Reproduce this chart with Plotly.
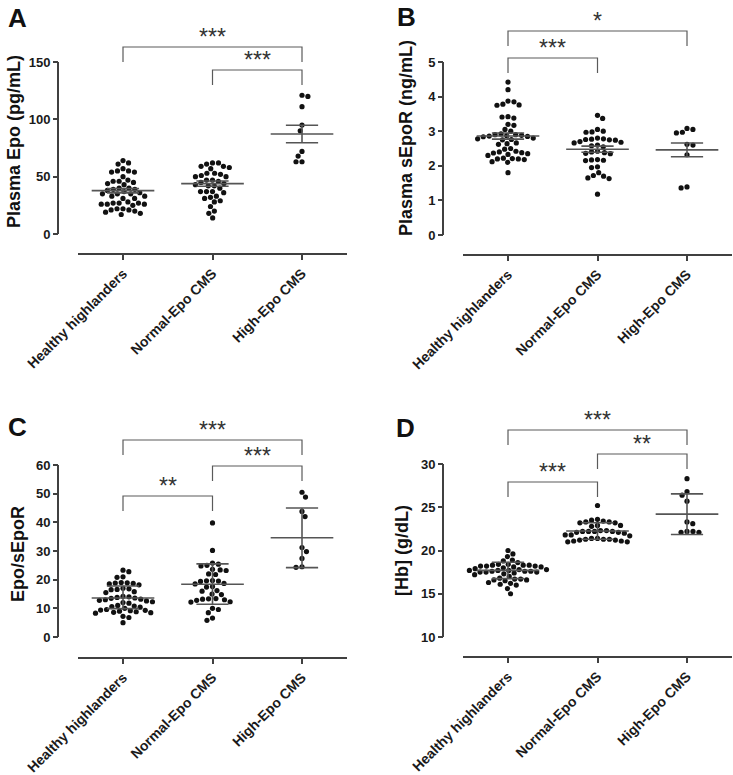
import math
import plotly.graph_objects as go

W, H = 733, 775

categories = ["Healthy highlanders", "Normal-Epo CMS", "High-Epo CMS"]

# ---- Panel A: Plasma Epo (pg/mL)
epo_healthy = [64, 62, 61, 57, 55, 54, 54, 55, 50, 47, 46, 46, 45, 44, 43, 40, 40, 39, 39, 38, 37, 36, 35, 35, 35,
               33, 33, 31, 31, 28, 27, 27, 27, 26, 26, 26, 25, 22, 22, 21, 21, 20, 19, 18, 17]
epo_normal = [62, 62, 61, 59, 59, 58, 57, 53, 53, 52, 51, 50, 50, 47, 47, 46, 45, 44, 43, 42, 42, 40, 37, 37, 37,
              36, 33, 32, 31, 29, 28, 24, 20, 18, 14]
epo_high = [121, 120, 111, 95, 90, 72, 68, 63, 63]
epo_center = [37.8, 43.9, 87.2]
epo_low = [35.9, 41.6, 79.6]
epo_high_err = [39.7, 46.2, 94.8]
epo_ticks = [0, 50, 100, 150]

# ---- Panel B: Plasma sEpoR (ng/mL)
sepor_healthy = [4.42, 4.2, 3.87, 3.85, 3.78, 3.76, 3.75, 3.42, 3.41, 3.38, 3.2, 3.17, 3.05, 3.0, 2.92, 2.9, 2.9,
                 2.88, 2.87, 2.86, 2.85, 2.84, 2.8, 2.78, 2.76, 2.75, 2.66, 2.64, 2.62, 2.5, 2.48, 2.42, 2.4, 2.38,
                 2.37, 2.35, 2.33, 2.3, 2.22, 2.21, 2.2, 2.2, 2.18, 2.12, 2.1, 1.8]
sepor_normal = [3.46, 3.37, 3.05, 3.0, 2.98, 2.97, 2.8, 2.78, 2.77, 2.76, 2.75, 2.74, 2.7, 2.68, 2.66, 2.6, 2.58,
                2.55, 2.42, 2.4, 2.38, 2.36, 2.35, 2.18, 2.17, 2.16, 2.15, 1.97, 1.95, 1.8, 1.72, 1.7, 1.65, 1.63, 1.18]
sepor_high = [3.08, 3.05, 2.97, 2.95, 2.62, 2.6, 2.32, 1.39, 1.36]
sepor_center = [2.86, 2.48, 2.46]
sepor_low = [2.77, 2.39, 2.26]
sepor_high_err = [2.95, 2.57, 2.66]
sepor_ticks = [0, 1, 2, 3, 4, 5]

# ---- Panel C: Epo/sEpoR
ratio_healthy = [23.3, 22.8, 21.0, 20.8, 19.0, 18.9, 18.8, 18.7, 18.5, 18.2, 17.0, 16.8, 16.6, 16.5, 15.8, 15.5,
                 14.2, 14.0, 13.8, 13.6, 13.5, 13.2, 13.0, 12.8, 12.6, 12.3, 12.0, 11.8, 11.0, 10.8, 10.6, 10.4,
                 10.0, 9.6, 9.4, 9.3, 9.2, 9.0, 8.8, 8.6, 8.5, 8.3, 7.2, 6.8, 5.0]
ratio_normal = [39.8, 30.2, 25.8, 25.4, 25.0, 24.8, 23.6, 23.4, 23.2, 22.0, 21.8, 19.7, 19.6, 19.5, 19.4, 18.7,
                18.5, 17.6, 17.4, 16.2, 16.0, 15.0, 14.8, 13.4, 13.3, 13.2, 13.0, 12.8, 12.3, 12.2, 10.0, 9.6, 8.5,
                6.6, 5.8]
ratio_high = [50.5, 48.8, 43.8, 42.0, 31.2, 29.8, 27.4, 24.5, 24.3]
ratio_center = [13.6, 18.4, 34.6]
ratio_low = [9.9, 11.4, 24.2]
ratio_high_err = [17.8, 25.5, 45.0]
ratio_ticks = [0, 10, 20, 30, 40, 50, 60]

# ---- Panel D: [Hb] (g/dL)
hb_healthy = [20.0, 19.6, 19.3, 18.9, 18.8, 18.6, 18.4, 18.4, 18.3, 18.3, 18.3, 18.2, 18.2, 18.2, 18.1, 18.1, 18.0,
              17.9, 17.8, 17.8, 17.7, 17.7, 17.7, 17.6, 17.6, 17.6, 17.5, 17.5, 17.5, 17.4, 17.3, 17.2, 17.0, 16.8,
              16.7, 16.7, 16.6, 16.6, 16.5, 16.3, 16.2, 16.1, 16.0, 15.6, 15.0]
hb_normal = [25.2, 23.6, 23.5, 23.4, 23.3, 23.3, 23.2, 23.2, 22.9, 22.9, 22.8, 22.3, 22.3, 22.2, 22.2, 22.2, 22.2,
             22.1, 22.1, 22.0, 21.8, 21.8, 21.7, 21.4, 21.4, 21.3, 21.3, 21.3, 21.2, 21.2, 21.1, 21.1, 21.0, 21.0]
hb_high = [28.3, 26.8, 26.4, 25.7, 23.3, 23.1, 22.2, 22.1, 22.1, 22.2]
hb_center = [17.7, 22.25, 24.2]
hb_low = [16.75, 21.3, 21.85]
hb_high_err = [18.65, 23.2, 26.55]
hb_ticks = [10, 15, 20, 25, 30]

# significance brackets: (group i, group j, label)
epo_sig = [(0, 2, "***"), (1, 2, "***")]
sepor_sig = [(0, 2, "*"), (0, 1, "***")]
ratio_sig = [(0, 2, "***"), (1, 2, "***"), (0, 1, "**")]
hb_sig = [(0, 2, "***"), (1, 2, "**"), (0, 1, "***")]

AXIS = "#404040"
ERR = "#555555"
BRK = "#5a5a5a"
TXT = "#1a1a1a"
FONT = "Liberation Sans, Arial, sans-serif"

panels = [
    dict(letter="A", title="Plasma Epo (pg/mL)", groups=[epo_healthy, epo_normal, epo_high],
         center=epo_center, low=epo_low, high=epo_high_err, ticks=epo_ticks, sig=epo_sig,
         yax_px=58, cat0=123, xline=253, tick_lo_px=234, tick_hi_px=62, top=15,
         brk_px=[47, 70], letter_xy=(17, 18), title_xy=(14, 142)),
    dict(letter="B", title="Plasma sEpoR (ng/mL)", groups=[sepor_healthy, sepor_normal, sepor_high],
         center=sepor_center, low=sepor_low, high=sepor_high_err, ticks=sepor_ticks, sig=sepor_sig,
         yax_px=443, cat0=508, xline=254, tick_lo_px=235, tick_hi_px=62, top=10,
         brk_px=[31, 58], letter_xy=(406, 17), title_xy=(406, 138)),
    dict(letter="C", title="Epo/sEpoR", groups=[ratio_healthy, ratio_normal, ratio_high],
         center=ratio_center, low=ratio_low, high=ratio_high_err, ticks=ratio_ticks, sig=ratio_sig,
         yax_px=58, cat0=123, xline=657, tick_lo_px=637, tick_hi_px=465, top=415,
         brk_px=[440, 466, 496], letter_xy=(17, 427), title_xy=(18, 554)),
    dict(letter="D", title="[Hb] (g/dL)", groups=[hb_healthy, hb_normal, hb_high],
         center=hb_center, low=hb_low, high=hb_high_err, ticks=hb_ticks, sig=hb_sig,
         yax_px=443, cat0=508, xline=656, tick_lo_px=637, tick_hi_px=464, top=415,
         brk_px=[430, 454, 482], letter_xy=(405, 428), title_xy=(402, 551)),
]

SP = 89.5        # px between categories
DOT = 5.2        # marker diameter px
GAP = 6.0        # min centre distance px
LEG = 15         # bracket leg length px


def beeswarm(vals, k):
    """x offsets (px) so that dots do not overlap; y scale k px/unit."""
    order = sorted(range(len(vals)), key=lambda i: -vals[i])
    placed = []
    offs = [0.0] * len(vals)
    for i in order:
        y = vals[i] * k
        intervals = []
        for (xo, yo) in placed:
            dy = abs(y - yo)
            if dy < GAP:
                hw = math.sqrt(GAP * GAP - dy * dy)
                intervals.append((xo - hw, xo + hw))
        cands = [0.0] + [a for a, b in intervals] + [b for a, b in intervals]
        ok = [c for c in cands if all(not (a + 1e-6 < c < b - 1e-6) for a, b in intervals)]
        ok.sort(key=lambda c: (round(abs(c), 4), -c if len(placed) % 2 else c))
        x = ok[0]
        offs[i] = x
        placed.append((x, y))
    return offs


fig = go.Figure()
layout = dict(width=W, height=H, margin=dict(l=0, r=0, t=0, b=0, autoexpand=False), showlegend=False,
              template="none", paper_bgcolor="white", plot_bgcolor="white", shapes=[], annotations=[],
              font=dict(family=FONT, color=TXT))

for n, p in enumerate(panels):
    sfx = "" if n == 0 else str(n + 1)
    xa, ya = "x" + sfx, "y" + sfx
    ticks = p["ticks"]
    k = (p["tick_lo_px"] - p["tick_hi_px"]) / (ticks[-1] - ticks[0])   # px per unit

    def v_of(py, p=p, k=k, ticks=ticks):
        return ticks[0] + (p["tick_lo_px"] - py) / k

    yr = [v_of(p["xline"]), v_of(p["top"])]
    xdom = [(p["cat0"] - 0.5 * SP) / W, (p["cat0"] + 2.5 * SP) / W]
    ydom = [1 - p["xline"] / H, 1 - p["top"] / H]

    layout["xaxis" + sfx] = dict(domain=xdom, range=[-0.5, 2.5], anchor=ya, tickmode="array",
                                 tickvals=[0, 1, 2], ticktext=categories, tickangle=-45, automargin=False,
                                 showline=True, linecolor=AXIS, linewidth=2, ticks="outside",
                                 ticklen=5, tickwidth=2, tickcolor=AXIS, showgrid=False, zeroline=False,
                                 tickfont=dict(family=FONT, size=14, color=TXT, weight="bold"))
    layout["yaxis" + sfx] = dict(domain=ydom, range=yr, anchor="free", position=p["yax_px"] / W,
                                 tickmode="array", tickvals=ticks, showline=False, ticks="outside",
                                 automargin=False,
                                 ticklen=5, tickwidth=2, tickcolor=AXIS, showgrid=False, zeroline=False,
                                 tickfont=dict(family=FONT, size=13, color=TXT, weight="bold"))
    # y axis line spanning only the tick range
    layout["shapes"].append(dict(type="line", xref="paper", yref=ya, x0=p["yax_px"] / W, x1=p["yax_px"] / W,
                                 y0=ticks[0], y1=ticks[-1], line=dict(color=AXIS, width=2)))

    # dots
    for gi, vals in enumerate(p["groups"]):
        offs = beeswarm(vals, k)
        fig.add_trace(go.Scatter(x=[gi + o / SP for o in offs], y=vals, mode="markers", xaxis=xa, yaxis=ya,
                                 marker=dict(size=DOT, color="#111111", line=dict(width=0)),
                                 hoverinfo="skip", cliponaxis=False))
    # centre line and error bars
    ex, ey = [], []
    for gi in range(3):
        c, lo, hi = p["center"][gi], p["low"][gi], p["high"][gi]
        ex += [gi - 0.35, gi + 0.35, None, gi, gi, None, gi - 0.18, gi + 0.18, None, gi - 0.18, gi + 0.18, None]
        ey += [c, c, None, lo, hi, None, lo, lo, None, hi, hi, None]
    fig.add_trace(go.Scatter(x=ex, y=ey, mode="lines", xaxis=xa, yaxis=ya,
                             line=dict(color=ERR, width=1.6), hoverinfo="skip"))

    # significance brackets
    for (i, j, lab), bpx in zip(p["sig"], p["brk_px"]):
        ytop = v_of(bpx)
        yleg = v_of(bpx + LEG)
        fig.add_trace(go.Scatter(x=[i, i, j, j], y=[yleg, ytop, ytop, yleg], mode="lines",
                                 xaxis=xa, yaxis=ya, line=dict(color=BRK, width=1.2), hoverinfo="skip"))
        layout["annotations"].append(dict(x=(i + j) / 2, y=ytop, xref=xa, yref=ya, text=lab, showarrow=False,
                                          yanchor="bottom", yshift=-5,
                                          font=dict(family=FONT, size=23, color="#333333")))

    # panel letter
    lx, ly = p["letter_xy"]
    layout["annotations"].append(dict(x=lx / W, y=1 - ly / H, xref="paper", yref="paper", text=p["letter"],
                                      showarrow=False, xanchor="center", yanchor="middle",
                                      font=dict(family=FONT, size=26, color="#111111", weight="bold")))
    # y title
    tx, ty = p["title_xy"]
    layout["annotations"].append(dict(x=tx / W, y=1 - ty / H, xref="paper", yref="paper",
                                      text=p["title"], textangle=-90, showarrow=False,
                                      xanchor="center", yanchor="middle",
                                      font=dict(family=FONT, size=18, color="#111111", weight="bold")))

fig.update_layout(**layout)
fig.write_html("out.html", config={"displayModeBar": False},
               post_script="document.body.style.margin='0';document.body.style.overflow='hidden';")
